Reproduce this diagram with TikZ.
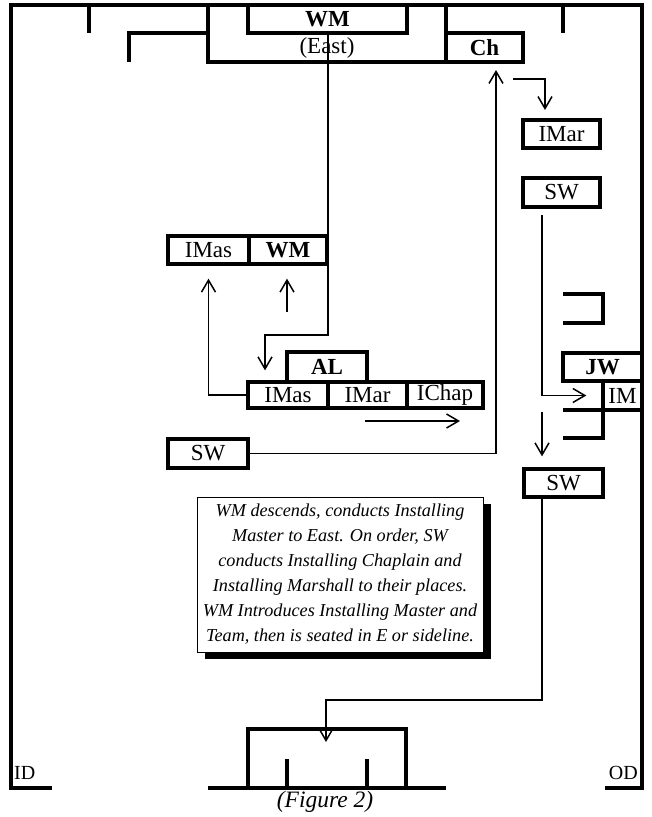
\documentclass[tikz,border=0pt]{standalone}
\usepackage{fontspec}
\setmainfont{Liberation Serif}
\usetikzlibrary{arrows.meta}
\begin{document}
\begin{tikzpicture}[x=1pt,y=-1pt,
  wall/.style={line width=3.3pt},
  conn/.style={line width=1.5pt},
  arr/.style={conn,-{Straight Barb[length=12pt,width=14pt]}},
  box/.style={draw,line width=3.3pt,inner sep=0pt,font=\fontsize{23}{25}\selectfont,minimum height=28pt},
  plain/.style={inner sep=0pt,font=\fontsize{23}{25}\selectfont},
  notebox/.style={draw,fill=white,line width=1pt,inner sep=0pt,minimum width=286pt,minimum height=155pt,align=center,font=\fontsize{18.2}{25}\selectfont\itshape}
]
\useasboundingbox (0,0) rectangle (652,817);

% outer frame
\draw[wall] (52,788) -- (11,788) -- (11,5) -- (642,5) -- (642,788) -- (605,788);

% top structure
\draw[wall] (89,5) -- (89,33);
\draw[wall] (563,5) -- (563,33);
\draw[wall] (129,62) |- (208,33);
\draw[wall] (208,5) rectangle (446,62);
\node[box,minimum width=159pt] (wm) at (327.5,19) {\textbf{WM}};
\node[box,minimum width=77pt,minimum height=29pt] (ch) at (484.5,47.5) {\textbf{Ch}};
\node[plain] (east) at (327,48) {(East)};

% middle left group
\node[box,minimum width=81pt] (imasA) at (208.5,250) {IMas};
\node[box,minimum width=78pt] (wmB) at (288,250) {\textbf{WM}};
\node[box,minimum width=80pt,minimum height=30pt] (al) at (327,367) {\textbf{AL}};
\node[box,minimum width=80pt,minimum height=26pt] (imasB) at (288,395) {IMas};
\node[box,minimum width=79pt,minimum height=26pt] (imarB) at (367.5,395) {IMar};
\node[box,minimum width=76pt,minimum height=26pt] (ichap) at (445,395) {IChap};
\node[box,minimum width=80pt,minimum height=29pt] (swA) at (208,453.5) {SW};

% right column
\node[box,minimum width=77pt] (imarA) at (561.5,134) {IMar};
\node[box,minimum width=77pt,minimum height=29pt] (swB) at (561.5,192.5) {SW};
\draw[wall] (563,294) -- (603,294) -- (603,323) -- (563,323);
\node[box,minimum width=79pt] (jw) at (602.5,367) {\textbf{JW}};
\node[box,minimum width=39pt,minimum height=29pt] (im) at (622.5,395.5) {IM};
\draw[wall] (563,410) -- (642,410);
\draw[wall] (603,410) -- (603,438) -- (563,438);
\node[box,minimum width=79pt] (swC) at (563.5,483) {SW};

% bottom
\draw[wall] (208,788) -- (446,788);
\draw[wall] (248,788) |- (406,729) -- (406,788);
\draw[wall] (287,759) -- (287,788);
\draw[wall] (367,759) -- (367,788);
\node[plain,font=\fontsize{23.5}{25}\selectfont\itshape] (fig) at (325,802) {(Figure 2)};
\node[plain,anchor=west,font=\fontsize{20}{22}\selectfont] (id) at (14,773) {ID};
\node[plain,anchor=east,font=\fontsize{20}{22}\selectfont] (od) at (638,773) {OD};

% note box with shadow
\fill (205,504) rectangle (491,659);
\node[notebox] (note) at (340,574.5) {WM descends, conducts Installing\\Master to East. On order, SW\\conducts Installing Chaplain and\\Installing Marshall to their places.\\WM Introduces Installing Master and\\Team, then is seated in E or sideline.};

% connectors
\coordinate (wmbend) at (265,335);
\draw[arr,shorten >=10pt] (wm.south -| 328,0) |- (wmbend) -- (imasB.north -| wmbend);
\draw[arr,shorten >=13pt] (imasB.west) -| (imasA.south);
\coordinate (upA) at (287,312);
\draw[arr,shorten >=13pt] (upA) -- (wmB.south -| upA);
\coordinate (rA) at (365,421);
\coordinate (rB) at (460,421);
\draw[arr] (rA) -- (rB);
\coordinate (chin) at (496,62);
\draw[arr,shorten >=8pt] (swA.east) -| (chin);
\coordinate (cA) at (513,79);
\coordinate (cB) at (545,120);
\draw[arr,shorten >=10pt] (cA) -| (cB);
\coordinate (sA) at (542,215);
\draw[arr,shorten >=15pt] (sA) |- (im.west);
\coordinate (dA) at (542,412);
\draw[arr,shorten >=11pt] (dA) -- (swC.north -| dA);
\coordinate (eA) at (326,700);
\coordinate (eB) at (326,729);
\draw[arr,shorten >=-13pt] (swC.south -| 542,0) |- (eA) -- (eB);
\end{tikzpicture}
\end{document}
